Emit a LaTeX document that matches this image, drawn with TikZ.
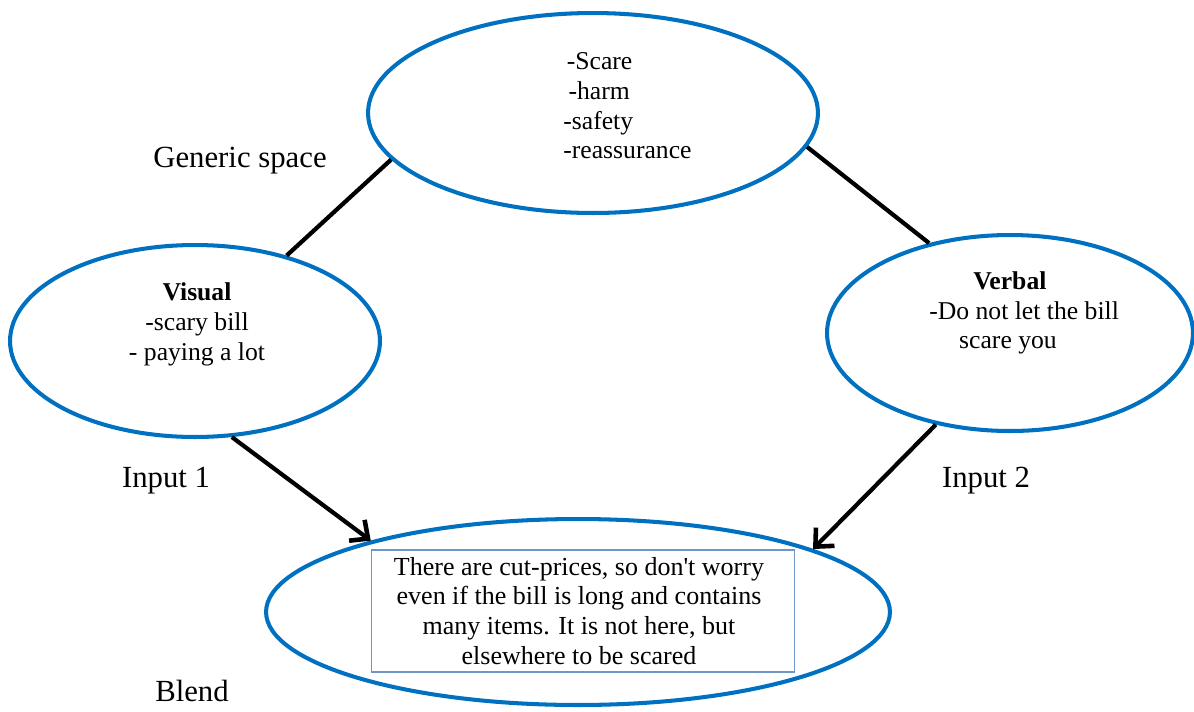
\documentclass[tikz,border=0pt]{standalone}
\usepackage{fontspec}
\setmainfont{Liberation Serif}[Ligatures=TeXOff]
\usetikzlibrary{shapes.geometric,arrows.meta}
\definecolor{ellblue}{RGB}{0,112,192}
\definecolor{boxblue}{RGB}{110,150,200}
\tikzset{
  space/.style={ellipse, draw=ellblue, line width=2.3pt, inner sep=0pt},
  link/.style={line width=2.4pt, black},
  flow/.style={line width=2.4pt, black, -{Straight Barb[length=2.8mm,width=5.2mm,line width=2.6pt]}},
  txt/.style={font=\fontsize{14.6}{17}\selectfont, inner sep=0pt},
  btxt/.style={font=\fontsize{14.8}{17}\selectfont, inner sep=0pt},
  lbl/.style={font=\fontsize{17.5}{21}\selectfont, inner sep=0pt},
}
\begin{document}
\begin{tikzpicture}[x=0.02cm,y=-0.02cm]
\useasboundingbox (0,0) rectangle (1194,711);
% spaces
\node[space, minimum width=9cm, minimum height=4cm] (gen) at (593,113) {};
\node[space, minimum width=7.4cm, minimum height=3.84cm] (vis) at (195,341) {};
\node[space, minimum width=7.32cm, minimum height=3.92cm] (ver) at (1010,333) {};
\node[space, minimum width=12.48cm, minimum height=3.72cm] (ble) at (578,612) {};
% texts
\node[txt, align=left, anchor=north west] (gentxt) at (563,52) {\hspace*{2pt}-Scare\\\hspace*{3pt}-harm\\-safety\\-reassurance};
\node[txt, align=center] (vistxt) at (197,324) {\textbf{Visual}\\-scary bill\\- paying a lot};
\node[txt, align=left, anchor=north west] (vertxt) at (929,271) {\hspace*{25pt}\textbf{Verbal}\\-Do not let the bill\\\hspace*{17pt}scare you};
\node[draw=boxblue, line width=0.6pt, minimum width=8.46cm, minimum height=2.44cm, inner sep=0pt] (box) at (583,611) {};
\node[btxt, align=center] (bletxt) at (579,611) {There are cut-prices, so don't worry\\even if the bill is long and contains\\many items. It is not here, but\\elsewhere to be scared};
% labels
\node[lbl] (lgen) at (240,161) {Generic space};
\node[lbl] (lin1) at (166,481) {Input 1};
\node[lbl] (lin2) at (986,481) {Input 2};
\node[lbl] (lble) at (192,691) {Blend};
% connectors
\draw[link] (gen.193) -- (vis.43);
\draw[link] (gen.-9) -- (ver.132);
\draw[flow] (vis.-69) -- (ble.161);
\draw[flow] (ver.231) -- (ble.15);
\end{tikzpicture}
\end{document}
